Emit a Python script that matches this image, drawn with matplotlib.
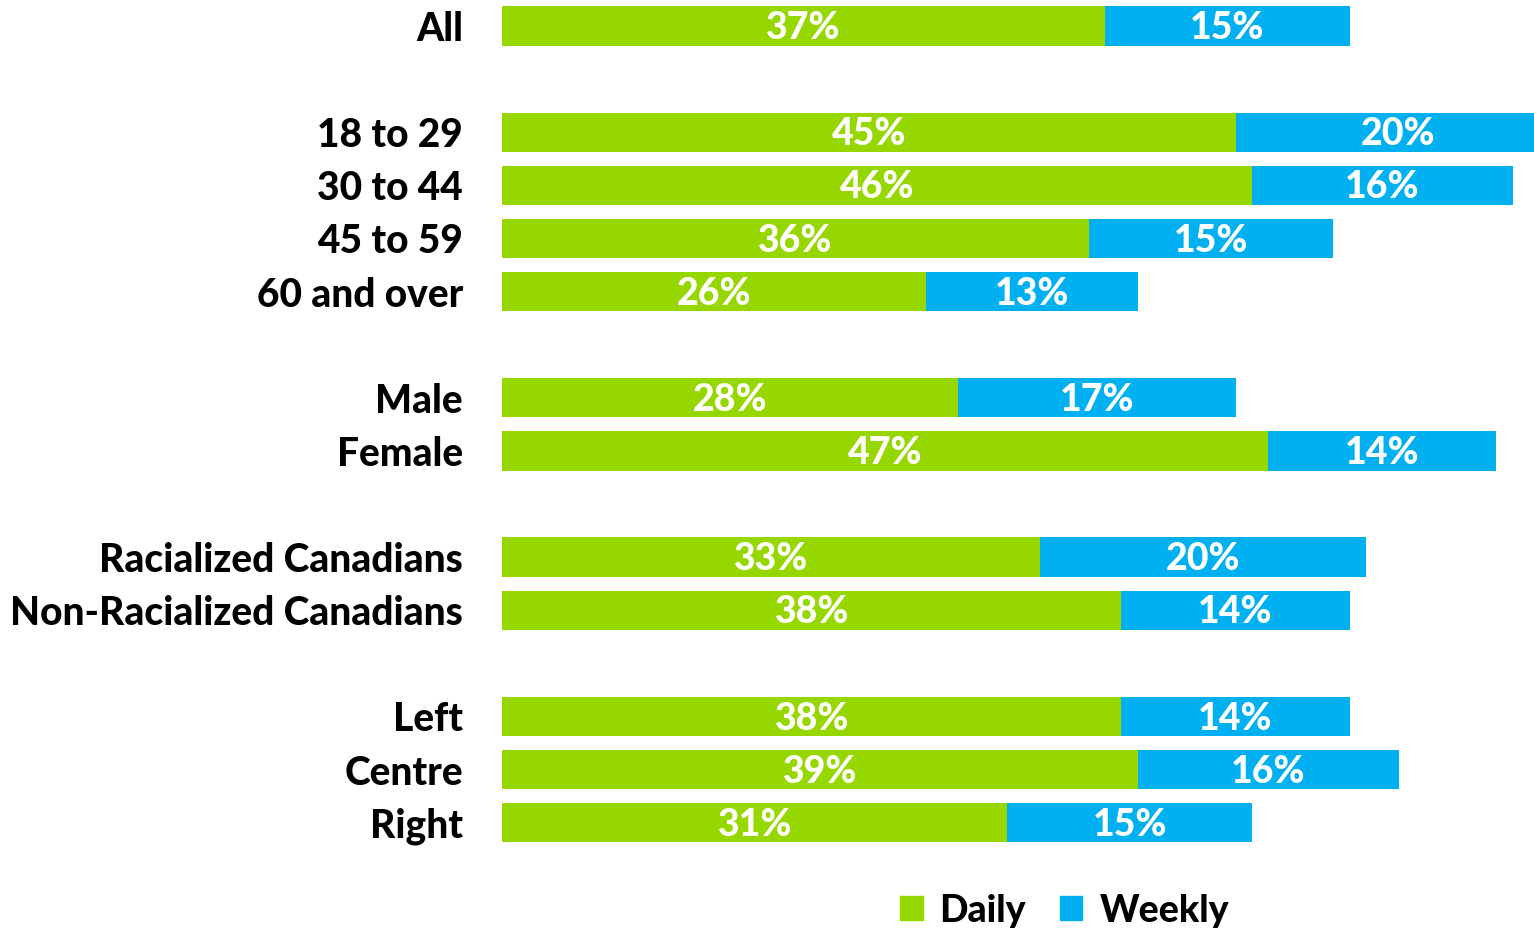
import matplotlib.pyplot as plt
from matplotlib.patches import Patch

# ----------------------------
# Data
# ----------------------------

groups = [
    "All",
    "18 to 29", "30 to 44", "45 to 59", "60 and over",
    "Male", "Female",
    "Racialized Canadians", "Non-Racialized Canadians",
    "Left", "Centre", "Right",
]
# row slots, with an empty slot between blocks
rows = [0, 2, 3, 4, 5, 7, 8, 10, 11, 13, 14, 15]

daily = [37, 45, 46, 36, 26, 28, 47, 33, 38, 38, 39, 31]
weekly = [15, 20, 16, 15, 13, 17, 14, 20, 14, 14, 16, 15]

GREEN = "#97D700"
BLUE = "#00B0F0"
FONT = "Lato"
WEIGHT = "black"

# ----------------------------
# Plot
# ----------------------------

fig = plt.figure(figsize=(15.34, 9.31), dpi=100)
ax = fig.add_axes([502 / 1534, 0.0, 1 - 502 / 1534, 1.0])

bar_h = 0.74
ax.barh(rows, daily, height=bar_h, color=GREEN, linewidth=0)
ax.barh(rows, weekly, left=daily, height=bar_h, color=BLUE, linewidth=0)

for r, d, w in zip(rows, daily, weekly):
    ax.text(d / 2, r + 0.04, f"{d}%", ha="center", va="center", color="white",
            fontsize=27, fontweight=WEIGHT, family=FONT)
    ax.text(d + w / 2, r + 0.04, f"{w}%", ha="center", va="center", color="white",
            fontsize=27, fontweight=WEIGHT, family=FONT)

ax.set_xlim(0, (1534 - 502) / 16.3)
ax.set_ylim(17.04, -0.49)
ax.set_yticks(rows)
ax.set_yticklabels(groups, fontsize=28, fontweight=WEIGHT, family=FONT)
ax.tick_params(axis="y", length=0, pad=28)
ax.set_xticks([])
for s in ax.spines.values():
    s.set_visible(False)

handles = [Patch(color=GREEN, label="Daily"), Patch(color=BLUE, label="Weekly")]
fig.legend(handles=handles, loc="center", bbox_to_anchor=(0.694, 0.022),
           ncol=2, frameon=False, handlelength=0.6, handleheight=0.6,
           handletextpad=0.45, columnspacing=0.9,
           prop={"family": FONT, "weight": WEIGHT, "size": 27})

fig.savefig("out.png", dpi=100)
